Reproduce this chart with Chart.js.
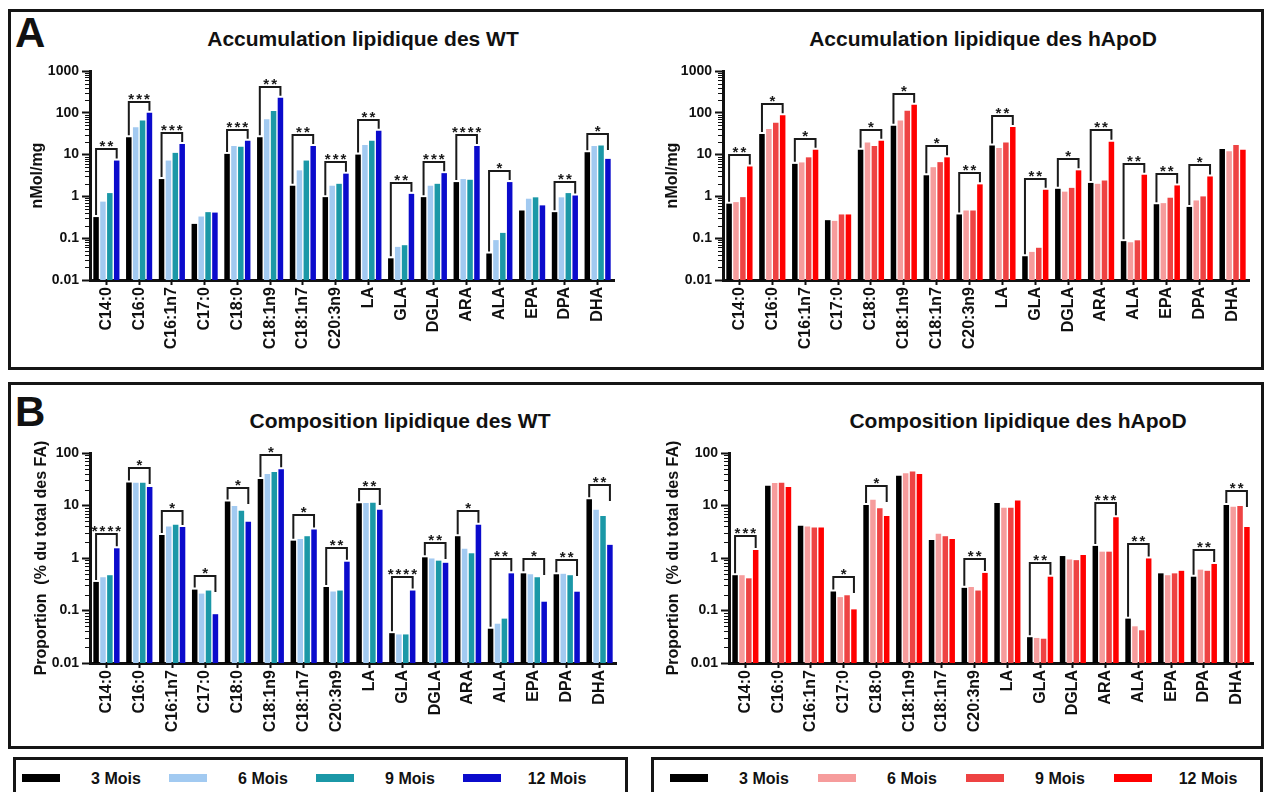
<!DOCTYPE html>
<html>
<head>
<meta charset="utf-8">
<script src="https://cdn.jsdelivr.net/npm/chart.js@4.4.1/dist/chart.umd.min.js"></script>
<style>
  body { margin: 0; background: #fff; font-family: 'Liberation Sans', Arial, sans-serif; color: #111; }
  #page { position: relative; width: 1271px; height: 792px; overflow: hidden; }
  .panel { position: absolute; border: 3px solid #151515; box-sizing: border-box; }
  .letter { position: absolute; font-weight: bold; font-size: 42px; line-height: 42px; }
  .title { position: absolute; font-weight: bold; font-size: 21px; line-height: 21px; width: 500px; text-align: center; white-space: nowrap; }
  .chart { position: absolute; }
  .legend { position: absolute; top: 757px; height: 50px; border: 3px solid #151515; box-sizing: border-box; }
  .sw { position: absolute; top: 774px; width: 38px; height: 8px; }
  .lt { position: absolute; top: 771px; width: 90px; text-align: center; font-weight: bold; font-size: 16px; line-height: 16px; white-space: nowrap; }
</style>
</head>
<body>
<div id="page">
  <div class="panel" style="left:8px; top:9px; width:1256px; height:361px;"></div>
  <div class="panel" style="left:8px; top:382px; width:1256px; height:367px;"></div>
  <div class="letter" style="left:15px; top:12px;">A</div>
  <div class="letter" style="left:15px; top:391px;">B</div>
  <div class="title" style="left:113px; top:28px;">Accumulation lipidique des WT</div>
  <div class="title" style="left:733px; top:28px;">Accumulation lipidique des hApoD</div>
  <div class="title" style="left:150px; top:410px;">Composition lipidique des WT</div>
  <div class="title" style="left:768px; top:410px;">Composition lipidique des hApoD</div>
  <canvas id="c1" class="chart"></canvas>
  <canvas id="c2" class="chart"></canvas>
  <canvas id="c3" class="chart"></canvas>
  <canvas id="c4" class="chart"></canvas>
  <div class="legend" style="left:13px; width:615px;"></div>
  <div class="legend" style="left:651px; width:612px;"></div>
  <div id="legends"></div>
</div>
<script>
const categories = ['C14:0', 'C16:0', 'C16:1n7', 'C17:0', 'C18:0', 'C18:1n9', 'C18:1n7', 'C20:3n9',
                    'LA', 'GLA', 'DGLA', 'ARA', 'ALA', 'EPA', 'DPA', 'DHA'];
const seriesLabels = ['3 Mois', '6 Mois', '9 Mois', '12 Mois'];
const accTicks = [0.01, 0.1, 1, 10, 100, 1000];
const compTicks = [0.01, 0.1, 1, 10, 100];

// Accumulation lipidique (nMol/mg) - WT
const wtAcc3  = [0.32, 26, 2.6, 0.22, 10.4, 26, 1.8, 0.96, 10, 0.033, 0.96, 2.2, 0.043, 0.46, 0.42, 11.4];
const wtAcc6  = [0.75, 45, 7.2, 0.33, 16, 70, 4.2, 1.8, 17, 0.062, 1.8, 2.6, 0.09, 0.88, 0.95, 16];
const wtAcc9  = [1.2, 65, 11, 0.42, 15.5, 110, 7.2, 2.0, 21.5, 0.068, 2.0, 2.5, 0.134, 0.95, 1.2, 16.5];
const wtAcc12 = [7.2, 100, 18, 0.41, 21.5, 230, 16, 3.5, 37, 1.15, 3.6, 16, 2.2, 0.61, 1.05, 7.9];
const wtAccStars = ['**', '***', '***', '', '***', '**', '**', '***', '**', '**', '***', '****', '*', '', '**', '*'];

// Accumulation lipidique (nMol/mg) - hApoD
const apAcc3  = [0.67, 31, 6.0, 0.27, 13, 49, 3.2, 0.37, 16.5, 0.037, 1.52, 2.1, 0.085, 0.65, 0.56, 13.6];
const apAcc6  = [0.73, 41, 6.5, 0.26, 19.6, 65, 5.0, 0.46, 14.4, 0.047, 1.3, 2.0, 0.08, 0.69, 0.8, 12];
const apAcc9  = [0.96, 58, 8.6, 0.37, 16, 112, 6.6, 0.46, 19.6, 0.059, 1.6, 2.4, 0.089, 0.93, 1.0, 17];
const apAcc12 = [5.2, 87, 13, 0.37, 21.5, 155, 8.6, 1.94, 46, 1.44, 4.2, 20.4, 3.3, 1.83, 3.0, 13];
const apAccStars = ['**', '*', '*', '', '*', '*', '*', '**', '**', '**', '*', '**', '**', '**', '*', ''];

// Composition lipidique (% du total des FA) - WT
const wtComp3  = [0.35, 27.5, 2.75, 0.25, 11.9, 32, 2.14, 0.28, 11, 0.037, 1.03, 2.6, 0.045, 0.51, 0.49, 13.2];
const wtComp6  = [0.43, 27, 4.0, 0.21, 9.8, 40, 2.3, 0.23, 11.2, 0.035, 0.98, 1.5, 0.056, 0.49, 0.5, 8.3];
const wtComp9  = [0.47, 27, 4.3, 0.24, 7.9, 43.5, 2.6, 0.24, 11.3, 0.035, 0.89, 1.23, 0.07, 0.43, 0.47, 6.3];
const wtComp12 = [1.53, 22.4, 3.9, 0.085, 4.9, 49, 3.5, 0.85, 8.3, 0.24, 0.81, 4.3, 0.51, 0.147, 0.228, 1.78];
const wtCompStars = ['****', '*', '*', '*', '*', '*', '*', '**', '**', '****', '**', '*', '**', '*', '**', '**'];

// Composition lipidique (% du total des FA) - hApoD
const apComp3  = [0.47, 23.8, 4.1, 0.23, 10.2, 37, 2.2, 0.27, 11.1, 0.031, 1.09, 1.7, 0.07, 0.51, 0.44, 10.2];
const apComp6  = [0.47, 26.8, 4.0, 0.18, 12.8, 41, 2.9, 0.28, 9.1, 0.03, 0.94, 1.32, 0.05, 0.47, 0.6, 9.5];
const apComp9  = [0.41, 27, 3.8, 0.195, 8.9, 44.5, 2.6, 0.24, 9.1, 0.029, 0.91, 1.32, 0.042, 0.51, 0.57, 9.8];
const apComp12 = [1.42, 22.4, 3.8, 0.105, 6.3, 40, 2.3, 0.52, 12.5, 0.44, 1.14, 6.0, 0.98, 0.57, 0.77, 3.9];
const apCompStars = ['***', '', '', '*', '*', '', '', '**', '', '**', '', '***', '**', '', '**', '**'];

const wtColors = ['#000000', '#a2caf1', '#1b98a7', '#0b0bcc'];
const apColors = ['#000000', '#f69c9c', '#ee4343', '#ff0000'];
const FONT = "'Liberation Sans', Arial, sans-serif";

// minor log ticks + significance brackets, placed through the chart's own scales
const extras = {
    id: 'extras',
    afterDatasetsDraw(chart, args, opts) {
        const ctx = chart.ctx;
        const y = chart.scales.y;
        const area = chart.chartArea;
        ctx.save();
        ctx.strokeStyle = '#111';
        ctx.lineWidth = 1;
        const e0 = Math.round(Math.log10(y.min)), e1 = Math.round(Math.log10(y.max));
        for (let e = e0; e < e1; e++) {
            for (let k = 2; k < 10; k++) {
                const py = Math.round(y.getPixelForValue(k * Math.pow(10, e))) + 0.5;
                ctx.beginPath();
                ctx.moveTo(area.left - 5, py);
                ctx.lineTo(area.left, py);
                ctx.stroke();
            }
        }

        const first = chart.getDatasetMeta(0).data;
        const last = chart.getDatasetMeta(3).data;
        ctx.lineWidth = 2;
        ctx.strokeStyle = '#1a1a1a';
        ctx.fillStyle = '#1a1a1a';
        ctx.font = 'bold 15px ' + FONT;
        ctx.textAlign = 'center';
        ctx.textBaseline = 'alphabetic';
        ctx.letterSpacing = '2px';
        (opts.stars || []).forEach((s, i) => {
            if (!s) return;
            const peak = Math.max(...chart.data.datasets.map(d => d.data[i]));
            const by = Math.round(y.getPixelForValue(peak * 1.85));
            const x0 = first[i].x, x1 = last[i].x;
            const y0 = first[i].y - 2;
            const y1 = Math.min(last[i].y - 2, by + 16);
            ctx.beginPath();
            ctx.moveTo(x0, y0);
            ctx.lineTo(x0, by);
            ctx.lineTo(x1, by);
            ctx.lineTo(x1, y1);
            ctx.stroke();
            ctx.fillText(s, (x0 + x1) / 2 + 1, by + 2);
        });
        ctx.restore();
    }
};

const panels = [
    { id: 'c1', left: 10,  top: 50,  width: 612, height: 310, series: [wtAcc3, wtAcc6, wtAcc9, wtAcc12],
      colors: wtColors, ticks: accTicks, yTitle: 'nMol/mg', titlePad: 18, stars: wtAccStars },
    { id: 'c2', left: 643, top: 50,  width: 614, height: 310, series: [apAcc3, apAcc6, apAcc9, apAcc12],
      colors: apColors, ticks: accTicks, yTitle: 'nMol/mg', titlePad: 20, stars: apAccStars },
    { id: 'c3', left: 10,  top: 432, width: 614, height: 311, series: [wtComp3, wtComp6, wtComp9, wtComp12],
      colors: wtColors, ticks: compTicks, yTitle: 'Proportion  (% du total des FA)', titlePad: 22, stars: wtCompStars },
    { id: 'c4', left: 649, top: 432, width: 612, height: 311, series: [apComp3, apComp6, apComp9, apComp12],
      colors: apColors, ticks: compTicks, yTitle: 'Proportion  (% du total des FA)', titlePad: 15, stars: apCompStars }
];

panels.forEach(p => {
    const canvas = document.getElementById(p.id);
    canvas.width = p.width;
    canvas.height = p.height;
    canvas.style.left = p.left + 'px';
    canvas.style.top = p.top + 'px';

    new Chart(canvas.getContext('2d'), {
        type: 'bar',
        data: {
            labels: categories,
            datasets: p.series.map((values, i) => ({
                label: seriesLabels[i],
                data: values,
                backgroundColor: p.colors[i],
                borderWidth: 0,
                categoryPercentage: 0.84,
                barPercentage: 0.8
            }))
        },
        options: {
            responsive: false,
            animation: false,
            devicePixelRatio: 1,
            layout: { padding: { top: 21, right: 8, left: 0, bottom: 0 } },
            plugins: {
                legend: { display: false },
                tooltip: { enabled: false },
                extras: { stars: p.stars }
            },
            scales: {
                x: {
                    afterFit: s => { s.height = 80; s.paddingLeft = 0; s.paddingRight = 0; },
                    ticks: {
                        autoSkip: false, maxRotation: 90, minRotation: 90, padding: 2,
                        color: '#111', font: { family: FONT, size: 16, weight: 'bold' }
                    },
                    grid: { offset: false, drawOnChartArea: false, tickLength: 5, tickWidth: 2, tickColor: '#111' },
                    border: { color: '#111', width: 3 }
                },
                y: {
                    type: 'logarithmic',
                    min: p.ticks[0],
                    max: p.ticks[p.ticks.length - 1],
                    afterBuildTicks: s => { s.ticks = p.ticks.map(v => ({ value: v })); },
                    afterFit: s => { s.width = 80; s.paddingTop = 0; s.paddingBottom = 0; },
                    ticks: {
                        padding: 3, color: '#111',
                        font: { family: FONT, size: 14, weight: 'bold' },
                        callback: v => String(v)
                    },
                    grid: { drawOnChartArea: false, tickLength: 8, tickWidth: 2, tickColor: '#111' },
                    border: { color: '#111', width: 3 },
                    title: {
                        display: true, text: p.yTitle, color: '#111',
                        font: { family: FONT, size: 16, weight: 'bold' },
                        padding: { top: p.titlePad, bottom: 0 }
                    }
                }
            }
        },
        plugins: [extras]
    });
});

// legends under panel B
const legendRows = [
    { x: 22, step: 147, colors: wtColors },
    { x: 670, step: 148, colors: apColors }
];
const holder = document.getElementById('legends');
legendRows.forEach(row => {
    seriesLabels.forEach((label, i) => {
        const sx = row.x + i * row.step;
        const sw = document.createElement('div');
        sw.className = 'sw';
        sw.style.left = sx + 'px';
        sw.style.background = row.colors[i];
        holder.appendChild(sw);
        const t = document.createElement('div');
        t.className = 'lt';
        t.style.left = (sx + 94 - 45) + 'px';
        t.textContent = label;
        holder.appendChild(t);
    });
});
</script>
</body>
</html>
